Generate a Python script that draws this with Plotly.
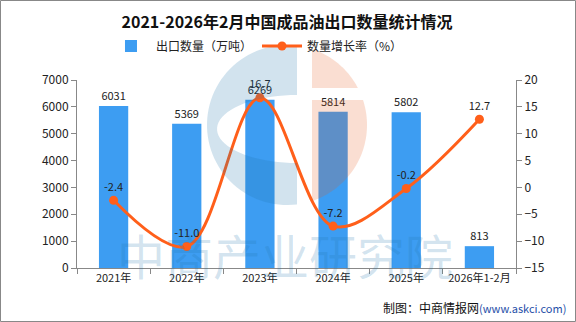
import numpy as np
import plotly.graph_objects as go

categories = ["2021年", "2022年", "2023年", "2024年", "2025年", "2026年1-2月"]
export_volume = [6031, 5369, 6269, 5814, 5802, 813]
growth_rate = [-2.4, -11.0, 16.7, -7.2, -0.2, 12.7]

W, H = 576, 322
ML, MR, MT, MB = 77, 60, 80, 54
PW, PH = W - ML - MR, H - MT - MB

FONT = "Noto Sans CJK SC"
BAR_COLOR = "#3D9DF2"
LINE_COLOR = "#FF5F1A"
WM_BLUE = "rgba(30,115,170,0.2)"
WM_ORANGE = "rgba(230,90,30,0.2)"


def to_paper(px, py):
    return (px - ML) / PW, (H - MB - py) / PH


def path_from(points):
    pts = [to_paper(x, y) for x, y in points]
    return "M " + " L ".join(f"{x:.4f},{y:.4f}" for x, y in pts) + " Z"


fig = go.Figure()

fig.add_trace(go.Bar(
    x=categories, y=export_volume, name="出口数量（万吨）",
    marker=dict(color=BAR_COLOR, line=dict(width=0)),
    width=0.4,
    text=[str(v) for v in export_volume], textposition="outside",
    textfont=dict(size=11, color="#222"), cliponaxis=False,
))

fig.add_trace(go.Scatter(
    x=categories, y=growth_rate, name="数量增长率（%）", yaxis="y2",
    mode="lines+markers+text",
    line=dict(color=LINE_COLOR, width=3, shape="spline", smoothing=1.0),
    marker=dict(color=LINE_COLOR, size=9),
    text=[f"{v:.1f}" for v in growth_rate], textposition="top center",
    textfont=dict(size=11, color="#222"), cliponaxis=False,
))

# logo watermark: blue "C" and orange right segment
cx, cy, R = 287, 125, 80
gap_l, gap_r = 297, 312
a0 = np.arccos((gap_l - cx) / R)
outer = [(cx + R * np.cos(t), cy - R * np.sin(t)) for t in np.linspace(a0, 2 * np.pi - a0, 60)]
inner = [(gap_l + 80 * np.cos(t), 129 + 34 * np.sin(t)) for t in np.linspace(np.pi / 2, 3 * np.pi / 2, 40)]
fig.add_shape(type="path", xref="paper", yref="paper", path=path_from(outer + inner),
              fillcolor=WM_BLUE, line=dict(width=0), layer="above")
a1 = np.arccos((gap_r - cx) / R)
upper = [(cx + R * np.cos(t), cy - R * np.sin(t)) for t in np.linspace(a1, np.arcsin((cy - 88) / R), 30)]
upper = upper + [(gap_r, 88)]
lower_start = np.arcsin((cy - 100) / R)
lower = [(cx + R * np.cos(t), cy - R * np.sin(t)) for t in np.linspace(lower_start, -a1, 40)]
lower = [(gap_r, 100)] + lower
fig.add_shape(type="path", xref="paper", yref="paper", path=path_from(upper),
              fillcolor=WM_ORANGE, line=dict(width=0), layer="above")
fig.add_shape(type="path", xref="paper", yref="paper", path=path_from(lower),
              fillcolor=WM_ORANGE, line=dict(width=0), layer="above")

# text watermark
fig.add_annotation(
    text="中商产业研究院", xref="paper", yref="paper",
    x=to_paper(285, 0)[0], y=to_paper(0, 254)[1],
    xanchor="center", yanchor="middle",
    showarrow=False, font=dict(size=48, color=WM_BLUE, family=FONT),
)

fig.add_annotation(
    text="制图：中商情报网<span style='color:#1f4fa8;font-size:11px'>(www.askci.com)</span>",
    xref="paper", yref="paper", x=to_paper(W - 8, 0)[0], y=to_paper(0, 307)[1],
    xanchor="right", yanchor="middle", showarrow=False,
    font=dict(size=12, color="#111", family=FONT),
)

# outer frame
fig.add_shape(
    type="rect", xref="paper", yref="paper",
    x0=to_paper(0.5, 0)[0], x1=to_paper(W - 0.5, 0)[0],
    y0=to_paper(0, H - 0.5)[1], y1=to_paper(0, 0.5)[1],
    line=dict(color="#888", width=1), layer="above",
)

axis_line = dict(showline=True, linecolor="#888", linewidth=1, ticks="outside",
                 tickcolor="#888", ticklen=5, showgrid=False, zeroline=False,
                 tickfont=dict(size=12, color="#222", family=FONT))

fig.update_layout(
    width=W, height=H,
    margin=dict(l=ML, r=MR, t=MT, b=MB),
    paper_bgcolor="white", plot_bgcolor="white",
    font=dict(family=FONT, color="#222"),
    title=dict(text="<b>2021-2026年2月中国成品油出口数量统计情况</b>",
               x=to_paper(287, 0)[0], xref="paper", xanchor="center",
               y=1 - 22 / H, yanchor="middle",
               font=dict(size=16, color="#111", family=FONT)),
    legend=dict(orientation="h", x=0.41, xanchor="center", y=to_paper(0, 46)[1],
                yanchor="middle", font=dict(size=12, color="#222"),
                itemwidth=40, bgcolor="rgba(0,0,0,0)"),
    showlegend=True,
    xaxis=dict(type="category", tickson="boundaries", showline=True, linecolor="#888",
               ticks="outside", tickcolor="#888", ticklen=5, showgrid=False,
               tickfont=dict(size=11, color="#222", family=FONT)),
    yaxis=dict(range=[0, 7000], dtick=1000, **axis_line),
    yaxis2=dict(range=[-15, 20], dtick=5, overlaying="y", side="right", **axis_line),
)

fig.write_html("out.html")
